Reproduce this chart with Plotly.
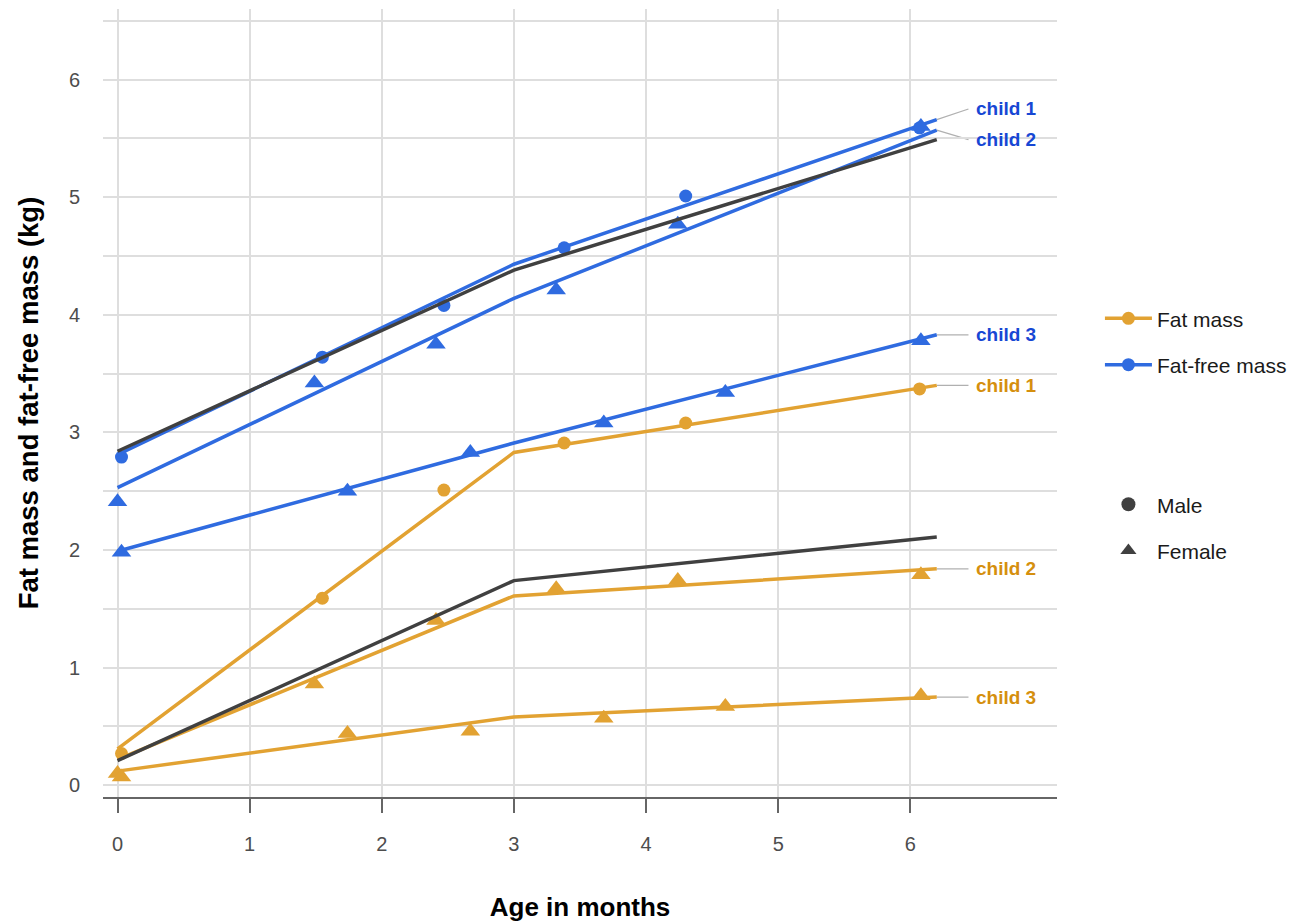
"""Fat mass and fat-free mass growth of three infants, 0-6 months."""

import plotly.graph_objects as go

# fitted (piecewise, knot at 3 months) lines
fit_age = [0, 3, 6.2]
ffm_fit = {
    "child 1": [2.81, 4.43, 5.66],
    "child 2": [2.53, 4.14, 5.57],
    "child 3": [1.99, 2.91, 3.83],
}
fm_fit = {
    "child 1": [0.31, 2.83, 3.40],
    "child 2": [0.22, 1.61, 1.84],
    "child 3": [0.12, 0.58, 0.75],
}
ffm_mean = [2.84, 4.38, 5.49]
fm_mean = [0.21, 1.74, 2.11]

# observed measurements
obs_age = {
    "child 1": [0.03, 1.55, 2.47, 3.38, 4.30, 6.07],
    "child 2": [0.00, 1.49, 2.41, 3.32, 4.24, 6.08],
    "child 3": [0.03, 1.74, 2.67, 3.68, 4.60, 6.08],
}
obs_ffm = {
    "child 1": [2.79, 3.64, 4.08, 4.57, 5.01, 5.59],
    "child 2": [2.41, 3.42, 3.75, 4.21, 4.77, 5.60],
    "child 3": [1.98, 2.50, 2.83, 3.08, 3.34, 3.78],
}
obs_fm = {
    "child 1": [0.27, 1.59, 2.51, 2.91, 3.08, 3.37],
    "child 2": [0.10, 0.86, 1.40, 1.67, 1.74, 1.79],
    "child 3": [0.07, 0.44, 0.46, 0.57, 0.67, 0.76],
}
sex = {"child 1": "Male", "child 2": "Female", "child 3": "Female"}
x_ticks = [0, 1, 2, 3, 4, 5, 6]
y_ticks = [0, 1, 2, 3, 4, 5, 6]

ORANGE, ORANGE_TXT = "#E2A232", "#D58F0E"
BLUE, BLUE_TXT = "#2F6BE0", "#1747D4"
DARK = "#404040"
FONT = "Liberation Sans, Arial, sans-serif"
SYMBOL = {"Male": "circle", "Female": "triangle-up"}
MSIZE = {"Male": 13, "Female": 17}
# label nudges so child 1 / child 2 fat-free labels don't collide
nudge = {("ffm", "child 1"): 0.09, ("ffm", "child 2"): -0.08}

fig = go.Figure()

for kind, fits, obs, mean, col in [("fm", fm_fit, obs_fm, fm_mean, ORANGE),
                                   ("ffm", ffm_fit, obs_ffm, ffm_mean, BLUE)]:
    for child, ys in fits.items():
        fig.add_trace(go.Scatter(x=fit_age, y=ys, mode="lines", showlegend=False,
                                 line=dict(color=col, width=3.5)))
        fig.add_trace(go.Scatter(
            x=obs_age[child], y=obs[child], mode="markers", showlegend=False,
            marker=dict(color=col, size=MSIZE[sex[child]],
                        symbol=SYMBOL[sex[child]], line=dict(width=0))))
    fig.add_trace(go.Scatter(x=fit_age, y=mean, mode="lines", showlegend=False,
                             line=dict(color=DARK, width=3.5)))

# end labels with thin connectors
for kind, fits, col in [("fm", fm_fit, ORANGE_TXT), ("ffm", ffm_fit, BLUE_TXT)]:
    for child, ys in fits.items():
        ly = ys[-1] + nudge.get((kind, child), 0)
        fig.add_shape(type="line", x0=fit_age[-1], y0=ys[-1], x1=6.44, y1=ly,
                      line=dict(color="#b0b0b0", width=1.2), layer="below")
        fig.add_annotation(x=6.48, y=ly, text=f"<b>{child}</b>", showarrow=False,
                           xanchor="left", font=dict(size=19, color=col, family=FONT))

# legends
for name, col in [("Fat mass", ORANGE), ("Fat-free mass", BLUE)]:
    fig.add_trace(go.Scatter(x=[None], y=[None], mode="lines+markers", name=name,
                             legend="legend", legendgroup=name,
                             line=dict(color=col, width=3.5),
                             marker=dict(color=col, size=13)))
for name in ["Male", "Female"]:
    fig.add_trace(go.Scatter(x=[None], y=[None], mode="markers", name=name,
                             legend="legend2", legendgroup=name,
                             marker=dict(color=DARK, size=14, symbol=SYMBOL[name])))

fig.add_vline(x=3, line=dict(color="#a3a3a3", width=1.6), layer="below")

grid = "#dedede"
legend_style = dict(xanchor="left", yanchor="top", tracegroupgap=16, itemwidth=47,
                    font=dict(size=21, color="#1a1a1a"), bgcolor="rgba(0,0,0,0)")
fig.update_layout(
    width=1295, height=916,
    margin=dict(l=95, r=246, t=1, b=127),
    plot_bgcolor="white", paper_bgcolor="white",
    font=dict(family=FONT, size=20, color="#4d4d4d"),
    xaxis=dict(range=[-0.11, 7.11], tickvals=x_ticks, showgrid=True, gridcolor=grid,
               gridwidth=1.5, zeroline=False, showline=True, linecolor="#666666",
               linewidth=2, ticks="outside", ticklen=14, tickwidth=2, tickcolor="#666666",
               ticklabelstandoff=14,
               title=dict(text="<b>Age in months</b>", standoff=44,
                          font=dict(size=26, color="black"))),
    yaxis=dict(range=[-0.1, 6.6], tickvals=y_ticks, showgrid=True, gridcolor=grid,
               gridwidth=1.5, zeroline=False, showline=False, ticks="",
               ticklabelstandoff=22,
               minor=dict(dtick=0.5, tick0=0, showgrid=True, gridcolor=grid, gridwidth=1.5),
               title=dict(text="<b>Fat mass and fat-free mass (kg)</b>", standoff=22,
                          font=dict(size=27.5, color="black"))),
    legend=dict(x=1.045, y=0.633, **legend_style),
    legend2=dict(x=1.045, y=0.397, **legend_style),
)

fig.write_html("out.html")
